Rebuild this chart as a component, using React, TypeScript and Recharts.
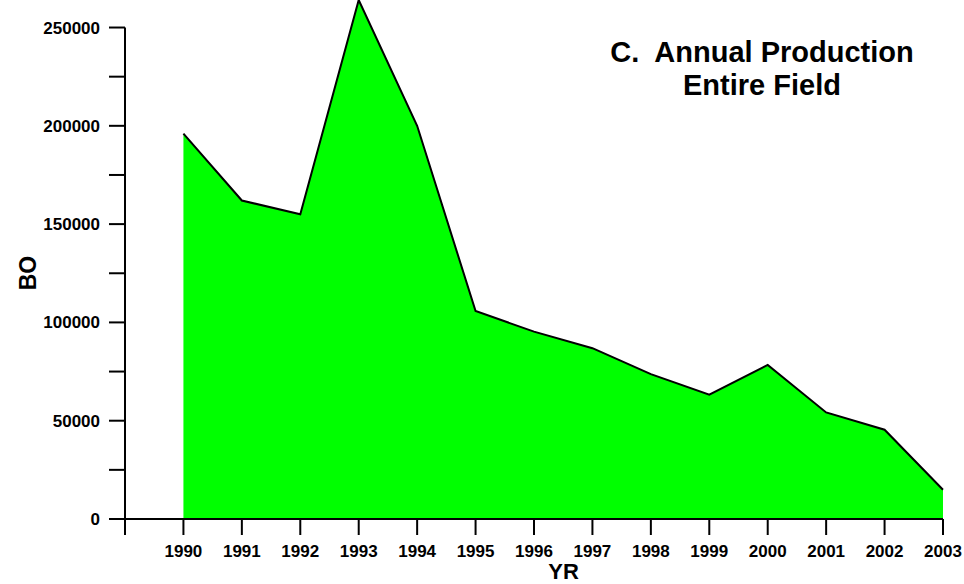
import { AreaChart, Area, XAxis, YAxis, ReferenceLine } from 'recharts';

const years = [1990, 1991, 1992, 1993, 1994, 1995, 1996, 1997, 1998, 1999, 2000, 2001, 2002, 2003];
const production = [196000, 162000, 155000, 264000, 200000, 105800, 95300, 86900, 73700, 63200, 78400, 54200, 45400, 14900];
const xTicks = [1989, ...years];
const yTicks = [0, 25000, 50000, 75000, 100000, 125000, 150000, 175000, 200000, 225000, 250000];
const titleLines = ['C.  Annual Production', 'Entire Field'];

const FONT = '"Liberation Sans", Arial, Helvetica, sans-serif';

export default function App() {
  const data = years.map((year, i) => ({ year, bo: production[i] }));

  const tickStyle = { fill: '#000', fontSize: 17, fontWeight: 'bold', fontFamily: FONT };

  return (
    <div style={{ position: 'absolute', left: 0, top: 0, width: 964, height: 584, background: '#fff' }}>
      <AreaChart width={964} height={584} data={data} margin={{ top: 0, right: 21, left: 0, bottom: 0 }}>
        <XAxis
          dataKey="year"
          type="number"
          domain={[1989, 2003]}
          ticks={xTicks}
          tickFormatter={(v: number) => (v === 1989 ? '' : String(v))}
          height={65}
          tickSize={16}
          tickMargin={10}
          tick={tickStyle}
          axisLine={{ stroke: '#000', strokeWidth: 2 }}
          tickLine={{ stroke: '#000', strokeWidth: 2 }}
          label={{
            content: () => (
              <text x={563.5} y={579} textAnchor="middle" fontSize={22} fontWeight="bold" fontFamily={FONT} fill="#000">
                YR
              </text>
            ),
          }}
        />
        <YAxis
          type="number"
          domain={[0, 264000]}
          ticks={yTicks}
          tickFormatter={(v: number) => (v % 50000 === 0 ? String(v) : '')}
          width={125}
          tickSize={16}
          tickMargin={9}
          tick={tickStyle}
          axisLine={false}
          tickLine={{ stroke: '#000', strokeWidth: 2 }}
          label={{
            content: () => (
              <text
                x={36}
                y={273}
                transform="rotate(-90 36 273)"
                textAnchor="middle"
                fontSize={23}
                fontWeight="bold"
                fontFamily={FONT}
                fill="#000"
              >
                BO
              </text>
            ),
          }}
        />
        <ReferenceLine
          segment={[{ x: 1989, y: 0 }, { x: 1989, y: 250000 }]}
          stroke="#000"
          strokeWidth={2}
          ifOverflow="visible"
        />
        <Area
          type="linear"
          dataKey="bo"
          stroke="#000"
          strokeWidth={2}
          fill="#00ff00"
          fillOpacity={1}
          isAnimationActive={false}
          dot={false}
          activeDot={false}
        />
      </AreaChart>
      <svg width={964} height={584} style={{ position: 'absolute', left: 0, top: 0, pointerEvents: 'none' }}>
        {titleLines.map((line, i) => (
          <text
            key={line}
            x={762}
            y={62 + i * 33}
            textAnchor="middle"
            fontSize={29}
            fontWeight="bold"
            fontFamily={FONT}
            fill="#000"
            style={{ whiteSpace: 'pre' }}
          >
            {line}
          </text>
        ))}
      </svg>
    </div>
  );
}
